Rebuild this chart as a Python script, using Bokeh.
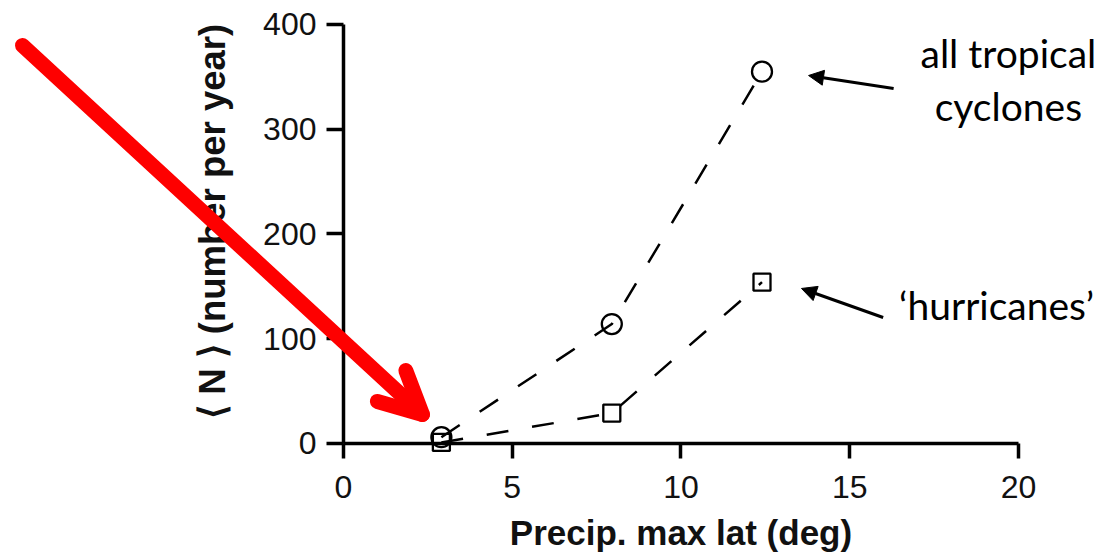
import math
from bokeh.plotting import figure
from bokeh.models import Range1d, FixedTicker, Label, Arrow, NormalHead, OpenHead
from bokeh.embed import file_html
from bokeh.resources import INLINE

# ---- data ----
precip_lat = [2.9, 7.95, 12.4]
all_tropical_cyclones = [6, 114, 355]
hurricanes = [1, 29, 154]

x_ticks = [0, 5, 10, 15, 20]
y_ticks = [0, 100, 200, 300, 400]

x_label = "Precip. max lat (deg)"
y_label = "\u27e8 N \u27e9 (number per year)"
label_all = ["all tropical", "cyclones"]
label_hur = "\u2018hurricanes\u2019"

FONT = "Liberation Sans"

# frame covers the whole canvas; axes are placed at x=0 / y=0
p = figure(width=1105, height=557,
           x_range=Range1d(-10.163, 22.578), y_range=Range1d(-108.83, 422.9),
           output_backend="svg", toolbar_location=None, title=None,
           min_border_left=0, min_border_right=0,
           min_border_top=0, min_border_bottom=0)
p.outline_line_color = None
p.grid.visible = False
p.background_fill_color = "white"
p.border_fill_color = "white"

for ax in (p.xaxis[0], p.yaxis[0]):
    ax.axis_line_width = 3.5
    ax.axis_line_color = "black"
    ax.major_tick_line_width = 3.5
    ax.major_tick_line_color = "black"
    ax.minor_tick_line_color = None
    ax.major_tick_in = 0
    ax.major_label_text_font = FONT
    ax.major_label_text_font_size = "32px"
    ax.major_label_text_color = "#111111"
    ax.fixed_location = 0

p.xaxis.ticker = FixedTicker(ticks=x_ticks)
p.yaxis.ticker = FixedTicker(ticks=y_ticks)
p.xaxis.bounds = (0, 20)
p.yaxis.bounds = (0, 400)
p.xaxis.major_tick_out = 15
p.yaxis.major_tick_out = 17
p.xaxis.major_label_standoff = 18
p.yaxis.major_label_standoff = 10

# dashed curves
p.line(precip_lat, all_tropical_cyclones, line_color="black", line_width=2.5, line_dash="22 24")
p.line(precip_lat, hurricanes, line_color="black", line_width=2.5, line_dash="22 24")

# markers
p.scatter(precip_lat, all_tropical_cyclones, marker="circle", size=20,
          fill_color=None, line_color="black", line_width=2.3)
p.scatter(precip_lat, hurricanes, marker="square", size=17,
          fill_color=None, line_color="black", line_width=2.3)

# axis titles as labels
p.add_layout(Label(x=10, y=-85.0, text=x_label, text_font=FONT, text_font_size="35px",
                   text_font_style="bold", text_align="center", text_baseline="alphabetic",
                   text_color="#111111"))
p.add_layout(Label(x=-3.88, y=212, text=y_label, angle=math.pi / 2, text_font=FONT,
                   text_font_size="36.5px", text_font_style="bold", text_align="center",
                   text_baseline="middle", text_color="#111111"))

# annotations
p.add_layout(Label(x=19.7, y=372.4, text=label_all[0], text_font="Lato", text_font_size="39px",
                   text_align="center", text_baseline="alphabetic", text_color="black"))
p.add_layout(Label(x=19.7, y=321.8, text=label_all[1], text_font="Lato", text_font_size="39px",
                   text_align="center", text_baseline="alphabetic", text_color="black"))
p.add_layout(Label(x=19.35, y=131.8, text=label_hur, text_font="Lato", text_font_size="39px",
                   text_align="center", text_baseline="alphabetic", text_color="black"))

p.add_layout(Arrow(end=NormalHead(size=15, fill_color="black", line_color="black"),
                   x_start=16.3, y_start=338.9, x_end=13.78, y_end=351.3,
                   line_color="black", line_width=3))
p.add_layout(Arrow(end=NormalHead(size=15, fill_color="black", line_color="black"),
                   x_start=15.99, y_start=120.3, x_end=13.57, y_end=148,
                   line_color="black", line_width=3))

# red pointer arrow
p.add_layout(Arrow(end=OpenHead(size=42, line_color="#fe0000", line_width=15,
                                line_cap="round", line_join="round"),
                   x_start=-9.51, y_start=380, x_end=2.34, y_end=27.7,
                   line_color="#fe0000", line_width=15, line_cap="round"))

open("out.html", "w").write(file_html(p, INLINE))
